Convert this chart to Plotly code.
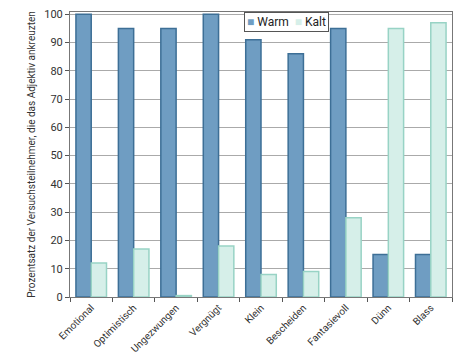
import plotly.graph_objects as go

categories = ["Emotional", "Optimistisch", "Ungezwungen", "Vergnügt", "Klein",
              "Bescheiden", "Fantasievoll", "Dünn", "Blass"]
warm = [100, 95, 95, 100, 91, 86, 95, 15, 15]
kalt = [12, 17, 0.5, 18, 8, 9, 28, 95, 97]
y_ticks = [0, 10, 20, 30, 40, 50, 60, 70, 80, 90, 100]

warm_fill, warm_edge = "#6f9dc2", "#3d6f96"
kalt_fill, kalt_edge = "#d6efe9", "#98d3c5"

fig = go.Figure()
fig.add_trace(go.Bar(x=categories, y=warm, name="Warm",
                     marker=dict(color=warm_fill, line=dict(color=warm_edge, width=1.5))))
fig.add_trace(go.Bar(x=categories, y=kalt, name="Kalt",
                     marker=dict(color=kalt_fill, line=dict(color=kalt_edge, width=1.5))))

legend_text = (f"<span style='color:{warm_fill}'>■</span> Warm  "
               f"<span style='color:{kalt_fill}'>■</span> Kalt")
fig.add_annotation(x=0.455, y=1.0, xref="paper", yref="paper", xanchor="left",
                   yanchor="top", text=legend_text, showarrow=False,
                   font=dict(size=12, color="#222"), bgcolor="white",
                   bordercolor="#555", borderwidth=1, borderpad=2)

fig.update_layout(
    width=474, height=355,
    barmode="group", bargap=0.28, bargroupgap=0.0,
    paper_bgcolor="white", plot_bgcolor="white",
    margin=dict(l=70, r=22, t=12, b=58),
    font=dict(family="Roboto, Noto Sans, sans-serif", color="#333"),
    showlegend=False,
)
fig.update_yaxes(range=[0, 100.8], tickvals=y_ticks, showgrid=True, gridcolor="#aaaaaa",
                 gridwidth=1, showline=True, linecolor="#777", mirror=True,
                 ticks="outside", ticklen=4, tickcolor="#555", automargin=False,
                 tickfont=dict(size=11, color="#333"), zeroline=False,
                 title=dict(text="Prozentsatz der Versuchsteilnehmer, die das Adjektiv ankreuzten",
                            font=dict(size=10, color="#333"), standoff=6))
fig.update_xaxes(showline=True, linecolor="#777", mirror=True, tickangle=-45,
                 ticks="outside", ticklen=4, tickcolor="#555", tickson="boundaries",
                 automargin=False, tickfont=dict(size=10, color="#333"))

fig.write_html("out.html", config={"displayModeBar": False},
               post_script="document.body.style.margin='0';document.body.style.overflow='hidden';")
